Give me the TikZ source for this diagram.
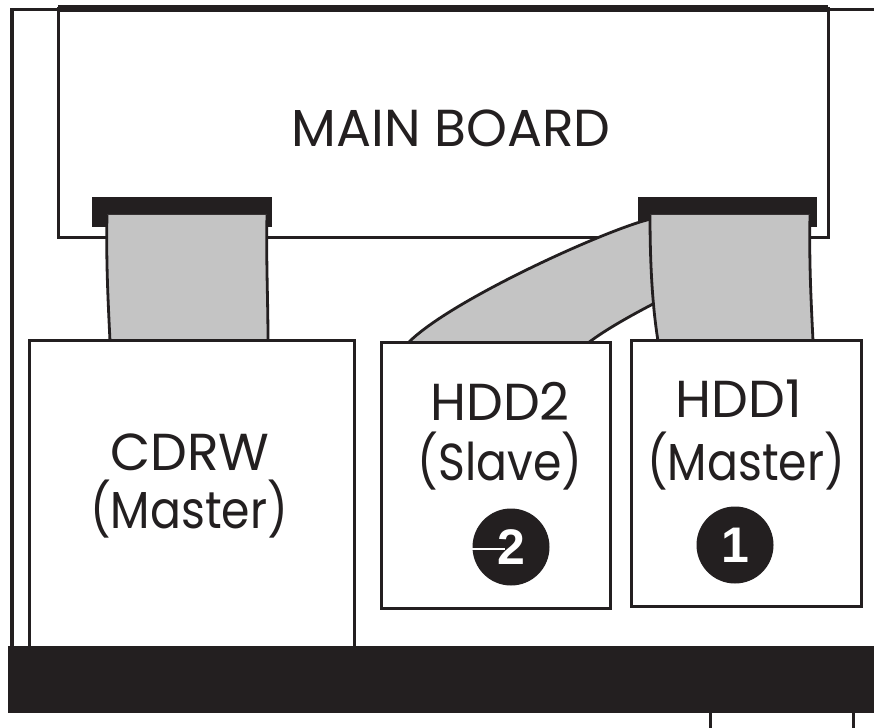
\documentclass[tikz,border=0pt]{standalone}
\usepackage{fontspec}
\setmainfont{Poppins}
\newfontfamily\narrowfont{Poppins}[FakeStretch=0.88]
\newfontfamily\digitfont{Liberation Sans}
\definecolor{ink}{HTML}{231F20}
\definecolor{cable}{HTML}{C4C4C4}
\begin{document}
\begin{tikzpicture}[x=1pt,y=-1pt,
  frameline/.style={draw=ink, line width=3.8pt},
  boxline/.style={draw=ink, line width=3pt, fill=white},
  lbl/.style={text=ink, font=\fontsize{52}{60}\selectfont, anchor=base, inner sep=0pt},
  sublbl/.style={lbl, font=\narrowfont\fontsize{52}{60}\selectfont},
  cabfill/.style={fill=cable, draw=none},
  cabedge/.style={draw=ink, line width=2.8pt},
  connblock/.style={fill=ink, draw=none},
  badge/.style={circle, fill=ink, minimum size=77pt, inner sep=0pt, text=white,
    font=\digitfont\bfseries\fontsize{50}{52}\selectfont}
]
\clip (0,0) rectangle (874,727);
\fill[white] (0,0) rectangle (874,727);
% outer frame
\draw[frameline] (12,646) -- (12,9.5) -- (874,9.5);
% main board
\draw[boxline] (58,9) rectangle (828,237);
\draw[ink, line width=7.5pt] (58,8.5) -- (828,8.5);
\node[lbl] (mb) at (451,147) {MAIN BOARD};
% connectors
\fill[connblock] (92,197) rectangle (272,227);
\fill[connblock] (638,197) rectangle (817,227);
% CDRW cable
\coordinate (c1a) at (107,215); \coordinate (c1b) at (110,341);
\coordinate (c1c) at (268,341); \coordinate (c1d) at (267,215);
\fill[cabfill] (c1a) .. controls (106,260) and (108,300) .. (c1b) -- (c1c) .. controls (268,300) and (266,260) .. (c1d) -- cycle;
\draw[cabedge] (c1a) .. controls (106,260) and (108,300) .. (c1b);
\draw[cabedge] (c1d) .. controls (266,260) and (268,300) .. (c1c);
% slave cable
\coordinate (s1) at (651,219); \coordinate (s2) at (408,343);
\coordinate (s3) at (588,343); \coordinate (s4) at (653,304);
\fill[cabfill] (s1) .. controls (610,228) and (450,300) .. (s2) -- (s3) .. controls (605,330) and (630,316) .. (s4) -- cycle;
\draw[cabedge] (s1) .. controls (610,228) and (450,300) .. (s2);
\draw[cabedge] (s3) .. controls (605,330) and (630,316) .. (s4);
% HDD1 cable
\coordinate (h1a) at (650,215); \coordinate (h1b) at (658,341);
\coordinate (h1c) at (813,341); \coordinate (h1d) at (810,215);
\fill[cabfill] (h1a) .. controls (650,270) and (653,310) .. (h1b) -- (h1c) .. controls (811,300) and (809,260) .. (h1d) -- cycle;
\draw[cabedge] (h1a) .. controls (650,270) and (653,310) .. (h1b);
\draw[cabedge] (h1d) .. controls (809,260) and (811,300) .. (h1c);
% drives
\draw[boxline] (29,340) rectangle (354,650);
\node[lbl] (cd1) at (190,470) {CDRW};
\node[sublbl] (cd2) at (189,528) {(Master)};
\draw[boxline] (381,342) rectangle (610,608);
\node[lbl] (h21) at (500,420) {HDD2};
\node[sublbl] (h22) at (500,480) {(Slave)};
\node[badge] (b2) at (511,547) {2};
\draw[white, line width=1.2pt] (472,549) -- (505,549);
\draw[boxline] (631,340) rectangle (861,606);
\node[lbl] (h11) at (739,417) {HDD1};
\node[sublbl] (h12) at (746,480) {(Master)};
\node[badge] (b1) at (735,545) {1};
% bottom bar
\draw[boxline] (710,705) rectangle (853,740);
\fill[ink] (8,646) rectangle (880,713);
\end{tikzpicture}
\end{document}
